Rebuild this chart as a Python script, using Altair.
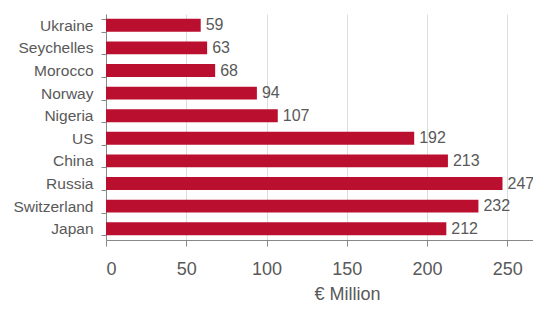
import altair as alt
import pandas as pd

countries = ["Ukraine", "Seychelles", "Morocco", "Norway", "Nigeria",
             "US", "China", "Russia", "Switzerland", "Japan"]
values = [59, 63, 68, 94, 107, 192, 213, 247, 232, 212]
x_ticks = [0, 50, 100, 150, 200, 250]

df = pd.DataFrame({"country": countries, "value": values})

FONT = "Liberation Sans"
LABEL = "#595959"

base = alt.Chart(df).encode(
    y=alt.Y(
        "country:N",
        sort=countries,
        scale=alt.Scale(paddingInner=0.43, paddingOuter=0.215),
        axis=alt.Axis(
            title=None, tickBand="extent", grid=False,
            domainColor="#888888", tickColor="#888888", tickSize=5,
            labelFont=FONT, labelFontSize=15.5, labelColor=LABEL, labelPadding=8,
        ),
    ),
    x=alt.X(
        "value:Q",
        scale=alt.Scale(domain=[0, 266], nice=False, zero=True),
        axis=alt.Axis(
            values=x_ticks, title="€ Million", grid=True, gridColor="#dddddd",
            domainColor="#888888", tickColor="#888888", tickSize=6,
            labelFont=FONT, labelFontSize=18, labelColor=LABEL, labelPadding=14,
            titleFont=FONT, titleFontSize=18, titleFontWeight="normal",
            titleColor=LABEL, titleX=241, titleY=59, titleBaseline="alphabetic",
            titleAnchor="start", titleAlign="center",
        ),
    ),
)

bars = base.mark_bar(color="#BA0F2E")
text = base.mark_text(align="left", baseline="middle", dx=5, fontSize=16,
                      font=FONT, color=LABEL).encode(text="value:Q")

chart = (bars + text).properties(
    width=427, height=226,
    autosize=alt.AutoSizeParams(type="none"),
    padding={"left": 98, "top": 6, "right": 0, "bottom": 62},
).configure_view(stroke=None)

chart.save("out.html", embed_options={"renderer": "svg", "actions": False})
